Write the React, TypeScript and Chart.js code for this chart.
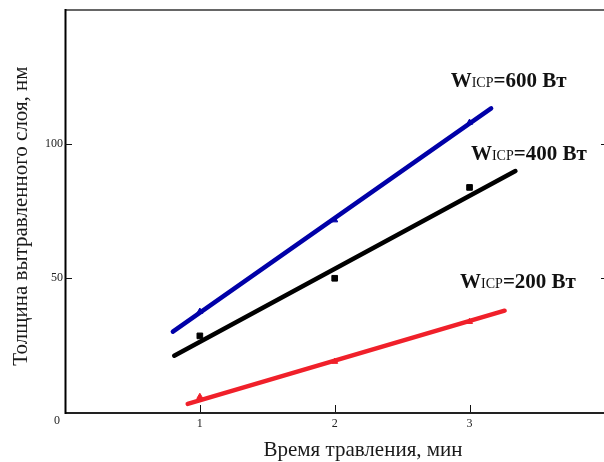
import { useEffect, useRef } from 'react';
import { Chart, registerables } from 'chart.js';

Chart.register(...registerables);

// Measured points (etch time, min -> etched thickness, nm)
const measuredTimes = [1, 2, 3];
const measured600 = [37.5, 71.6, 108.0];
const measured400 = [28.4, 49.9, 83.8];
const measured200 = [5.7, 18.8, 33.7];

// Linear fit lines (end points)
const fitTimes600 = [0.8, 3.16];
const fit600 = [30.0, 113.3];
const fitTimes400 = [0.81, 3.34];
const fit400 = [21.0, 89.9];
const fitTimes200 = [0.91, 3.26];
const fit200 = [3.0, 37.8];

// Annotation labels (power) anchored in data coordinates
const powerLabels = ['600', '400', '200'];
const powerLabelX = [2.86, 3.01, 2.93];
const powerLabelY = [121.4, 94.0, 46.2];

// Axis ticks
const xTickValues = [1, 2, 3];
const yTickValues = [50, 100];
const xMax = 3.96;
const yMax = 150;

const xTitle = 'Время травления, мин';
const yTitle = 'Толщина вытравленного слоя, нм';

const FONT = '"Liberation Serif", "Times New Roman", serif';

const toPts = (xs: number[], ys: number[]) => xs.map((x, i) => ({ x, y: ys[i] }));

export default function App() {
  const ref = useRef<HTMLCanvasElement | null>(null);

  useEffect(() => {
    if (!ref.current) return;

    const decor = {
      id: 'decor',
      afterDatasetsDraw(chart: any) {
        const { ctx, chartArea: a, scales, width } = chart;
        const xs = scales.x;
        const ys = scales.y;
        ctx.save();
        // frame
        ctx.lineCap = 'butt';
        ctx.strokeStyle = '#666';
        ctx.lineWidth = 2;
        ctx.beginPath();
        ctx.moveTo(a.left, a.top);
        ctx.lineTo(width, a.top);
        ctx.stroke();
        ctx.strokeStyle = '#222';
        ctx.beginPath();
        ctx.moveTo(a.left, a.bottom + 1);
        ctx.lineTo(width, a.bottom + 1);
        ctx.stroke();
        ctx.strokeStyle = '#000';
        ctx.beginPath();
        ctx.moveTo(a.left + 0.5, a.top - 1);
        ctx.lineTo(a.left + 0.5, a.bottom + 2);
        ctx.stroke();
        // inward ticks
        ctx.lineWidth = 1;
        ctx.strokeStyle = '#111';
        xTickValues.forEach((v) => {
          const px = Math.round(xs.getPixelForValue(v)) + 0.5;
          ctx.beginPath();
          ctx.moveTo(px, a.bottom);
          ctx.lineTo(px, a.bottom - 7);
          ctx.stroke();
        });
        yTickValues.forEach((v) => {
          const py = Math.round(ys.getPixelForValue(v)) + 0.5;
          ctx.beginPath();
          ctx.moveTo(a.left, py);
          ctx.lineTo(a.left + 7, py);
          ctx.stroke();
          ctx.beginPath();
          ctx.moveTo(width - 3, py);
          ctx.lineTo(width, py);
          ctx.stroke();
        });
        // origin label
        ctx.fillStyle = '#222';
        ctx.font = `12px ${FONT}`;
        ctx.textAlign = 'center';
        ctx.textBaseline = 'middle';
        ctx.fillText('0', a.left - 8, a.bottom + 9);
        // power labels
        ctx.textBaseline = 'alphabetic';
        ctx.textAlign = 'left';
        ctx.fillStyle = '#111';
        powerLabels.forEach((p, i) => {
          let x = xs.getPixelForValue(powerLabelX[i]);
          const y = ys.getPixelForValue(powerLabelY[i]);
          ctx.font = `bold 21px ${FONT}`;
          ctx.fillText('W', x, y);
          x += ctx.measureText('W').width;
          ctx.font = `14px ${FONT}`;
          ctx.fillText('ICP', x, y);
          x += ctx.measureText('ICP').width;
          ctx.font = `bold 21px ${FONT}`;
          ctx.fillText(`=${p} Вт`, x, y);
        });
        // axis titles
        ctx.fillStyle = '#1a1a1a';
        ctx.font = `21px ${FONT}`;
        ctx.textAlign = 'center';
        ctx.fillText(xTitle, 363, 456);
        ctx.translate(27, 216);
        ctx.rotate(-Math.PI / 2);
        ctx.fillText(yTitle, 0, 0);
        ctx.restore();
      },
    };

    const lineDs = (xs: number[], ys: number[], color: string) => ({
      type: 'line' as const,
      data: toPts(xs, ys),
      borderColor: color,
      backgroundColor: color,
      borderWidth: 4.5,
      borderCapStyle: 'round' as const,
      pointRadius: 0,
      showLine: true,
      order: 2,
    });
    const markDs = (ys: number[], color: string, style: string, r: number) => ({
      type: 'scatter' as const,
      data: toPts(measuredTimes, ys),
      borderColor: color,
      backgroundColor: color,
      pointStyle: style,
      pointRadius: r,
      borderWidth: 1,
      showLine: false,
      order: 1,
    });

    const chart = new Chart(ref.current, {
      type: 'scatter',
      data: {
        datasets: [
          lineDs(fitTimes600, fit600, '#0000a8'),
          lineDs(fitTimes400, fit400, '#000000'),
          lineDs(fitTimes200, fit200, '#f0202a'),
          markDs(measured600, '#0000a8', 'triangle', 3.5),
          markDs(measured400, '#000000', 'rect', 4),
          markDs(measured200, '#f0202a', 'triangle', 3.5),
        ] as any,
      },
      options: {
        animation: false,
        responsive: false,
        devicePixelRatio: 1,
        layout: { padding: { top: 10, left: 0, right: 0, bottom: 0 } },
        plugins: {
          legend: { display: false },
          tooltip: { enabled: false },
        },
        scales: {
          x: {
            type: 'linear',
            min: 0,
            max: xMax,
            border: { display: false },
            grid: { display: false, drawTicks: false },
            ticks: {
              stepSize: 1,
              padding: 5,
              color: '#222',
              font: { family: FONT, size: 12 },
              callback: (v: any) => (xTickValues.includes(Number(v)) ? String(v) : ''),
            },
            afterFit: (s: any) => {
              s.height = 50;
            },
          },
          y: {
            type: 'linear',
            min: 0,
            max: yMax,
            border: { display: false },
            grid: { display: false, drawTicks: false },
            ticks: {
              stepSize: 50,
              padding: 2,
              color: '#222',
              font: { family: FONT, size: 12 },
              callback: (v: any) => (yTickValues.includes(Number(v)) ? String(v) : ''),
            },
            afterFit: (s: any) => {
              s.width = 65;
            },
          },
        },
      } as any,
      plugins: [decor],
    });
    return () => chart.destroy();
  }, []);

  return (
    <div style={{ position: 'fixed', left: 0, top: 0, width: 604, height: 462, background: '#fff' }}>
      <canvas ref={ref} width={604} height={462} style={{ display: 'block' }} />
    </div>
  );
}
